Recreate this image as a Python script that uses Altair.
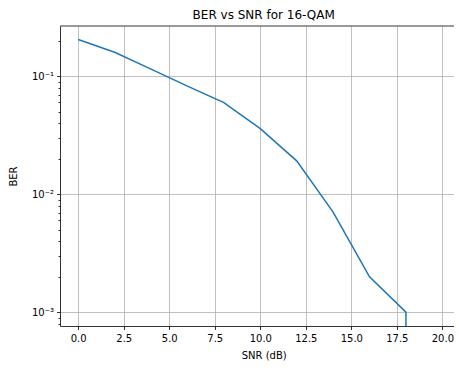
import altair as alt
import pandas as pd

# Data
snr_db = [0, 2, 4, 6, 8, 10, 12, 14, 16, 18, 20]
ber = [0.205, 0.160, 0.115, 0.0825, 0.0598, 0.036, 0.0192, 0.00705, 0.00199, 0.001, 0.0]

# matplotlib clips non-positive values on a log axis to a tiny positive number
ber_plot = [v if v > 0 else 1e-300 for v in ber]
df = pd.DataFrame({"snr": snr_db, "ber": ber_plot})

x_ticks = [0.0, 2.5, 5.0, 7.5, 10.0, 12.5, 15.0, 17.5, 20.0]
y_ticks = [8e-4, 9e-4,
           1e-3, 2e-3, 3e-3, 4e-3, 5e-3, 6e-3, 7e-3, 8e-3, 9e-3,
           1e-2, 2e-2, 3e-2, 4e-2, 5e-2, 6e-2, 7e-2, 8e-2, 9e-2,
           1e-1, 2e-1]
x_domain = [-1, 20.64]
y_domain = [7.63e-4, 0.2672]

FONT = "DejaVu Sans"
W, H = 394, 300
major_test = "abs(log(datum.value)/LN10 - round(log(datum.value)/LN10)) < 1e-6"
label_expr = ("(" + major_test + ") ? '10' + (round(log(datum.value)/LN10) == -1 ? '⁻¹' : "
              "(round(log(datum.value)/LN10) == -2 ? '⁻²' : '⁻³')) : ''")

line = alt.Chart(df).mark_line(color="#1f77b4", strokeWidth=1.5, clip=True).encode(
    x=alt.X("snr:Q",
            scale=alt.Scale(domain=x_domain, nice=False, zero=False),
            axis=alt.Axis(values=x_ticks, format=".1f", title="SNR (dB)",
                          grid=True, gridColor="#b0b0b0", gridWidth=0.8,
                          domainColor="black", domainWidth=0.8,
                          tickColor="black", tickSize=3.5, tickWidth=0.8,
                          labelPadding=4, labelFontSize=10, labelColor="black",
                          labelFont=FONT, titleFont=FONT, titleFontSize=10,
                          titleFontWeight="normal", titleColor="black",
                          titleX=203.7, titleY=32.4, titleBaseline="alphabetic")),
    y=alt.Y("ber:Q",
            scale=alt.Scale(type="log", domain=y_domain, nice=False),
            axis=alt.Axis(values=y_ticks, title="BER",
                          labelExpr=label_expr,
                          grid=True, gridColor="#b0b0b0", gridWidth=0.8,
                          gridOpacity={"condition": {"test": major_test, "value": 1}, "value": 0},
                          tickSize={"condition": {"test": major_test, "value": 3.5}, "value": 2},
                          domainColor="black", domainWidth=0.8,
                          tickColor="black", tickWidth=0.8,
                          labelPadding=3, labelFontSize=10, labelColor="black",
                          labelFont=FONT, titleFont=FONT, titleFontSize=10,
                          titleFontWeight="normal", titleColor="black",
                          titleX=-46.3, titleY=150, titleAngle=-90,
                          titleBaseline="middle", titleAlign="center")),
)

# top spine (matplotlib frame) as a single rule at the top of the y domain
spine_df = pd.DataFrame({"ber": [y_domain[1]]})
top_spine = alt.Chart(spine_df).mark_rule(color="black", strokeWidth=0.8).encode(
    y="ber:Q"
)

chart = alt.layer(line, top_spine).properties(
    width=W, height=H,
    title=alt.TitleParams("BER vs SNR for 16-QAM", font=FONT, fontSize=12,
                          fontWeight="normal", color="black", anchor="middle",
                          dx=6.7, offset=3.5),
    autosize=alt.AutoSizeParams(type="none"),
    padding={"left": 52, "top": 18, "right": 0, "bottom": 35},
).configure_view(stroke=None)

chart.save("out.html", embed_options={"renderer": "svg", "actions": False})
